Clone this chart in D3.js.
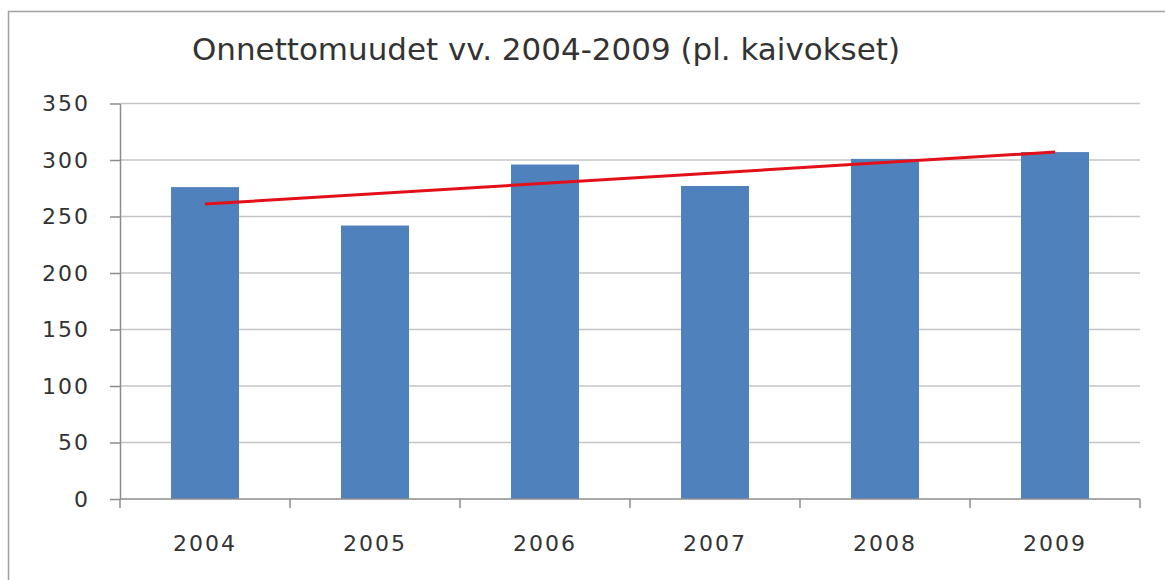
<!DOCTYPE html>
<html>
<head>
<meta charset="utf-8">
<script src="https://cdn.jsdelivr.net/npm/d3@7"></script>
<style>
  body { margin: 0; background: #fff; }
  text { font-family: "DejaVu Sans", sans-serif; fill: #333; }
</style>
</head>
<body>
<div id="chart"></div>
<script>
// Data
var years = ["2004", "2005", "2006", "2007", "2008", "2009"];
var accidents = [276, 242, 296, 277, 301, 307];
// trend line end points (at first and last year)
var trendYears = ["2004", "2009"];
var trendValues = [261, 307];
var yTicks = [0, 50, 100, 150, 200, 250, 300, 350];

var W = 1165, H = 580;
var margin = {top: 103.5, right: 25, bottom: 81, left: 120},
    width = W - margin.left - margin.right,
    height = H - margin.top - margin.bottom;

var root = d3.select("#chart").append("svg")
    .attr("width", W)
    .attr("height", H);

// outer chart border (only top and left are visible in the frame)
root.append("rect")
    .attr("x", 8.5).attr("y", 11.5)
    .attr("width", W + 20).attr("height", H + 20)
    .attr("fill", "none")
    .attr("stroke", "#a0a0a0")
    .attr("stroke-width", 1.5);

// title
root.append("text")
    .attr("x", 192).attr("y", 60)
    .attr("textLength", 708)
    .attr("lengthAdjust", "spacingAndGlyphs")
    .style("font-size", "30px")
    .text("Onnettomuudet vv. 2004-2009 (pl. kaivokset)");

var svg = root.append("g")
    .attr("transform", "translate(" + margin.left + "," + margin.top + ")");

var x = d3.scaleBand().domain(years).range([0, width]).paddingInner(0.6).paddingOuter(0.3);
var y = d3.scaleLinear().domain([0, 350]).range([height, 0]);
var step = x.step();

// gridlines
svg.selectAll(".grid")
    .data(yTicks.filter(function(d) { return d > 0; }))
  .enter().append("line")
    .attr("class", "grid")
    .attr("x1", 0).attr("x2", width)
    .attr("y1", function(d) { return y(d); })
    .attr("y2", function(d) { return y(d); })
    .attr("stroke", "#c4c4c4")
    .attr("stroke-width", 1.5);

// bars
svg.selectAll(".bar")
    .data(accidents)
  .enter().append("rect")
    .attr("class", "bar")
    .attr("x", function(d, i) { return x(years[i]); })
    .attr("width", x.bandwidth())
    .attr("y", function(d) { return y(d); })
    .attr("height", function(d) { return height - y(d); })
    .attr("fill", "#4f81bd");

// trend line
var line = d3.line()
    .x(function(d, i) { return x(trendYears[i]) + x.bandwidth() / 2; })
    .y(function(d) { return y(d); });
svg.append("path")
    .datum(trendValues)
    .attr("d", line)
    .attr("fill", "none")
    .attr("stroke", "#e3101a")
    .attr("stroke-width", 3);

// y axis
var yAxis = svg.append("g")
    .call(d3.axisLeft(y).tickValues(yTicks).tickSize(10).tickPadding(20).tickSizeOuter(0));
yAxis.select(".domain").attr("stroke", "#8c8c8c").attr("stroke-width", 1.5);
yAxis.selectAll(".tick line").attr("stroke", "#8c8c8c").attr("stroke-width", 1.5);
yAxis.selectAll("text")
    .style("font-size", "22px")
    .style("letter-spacing", "2px")
    .attr("fill", "#333");

// x axis: ticks at category boundaries
var xAxis = svg.append("g")
    .attr("transform", "translate(0," + height + ")");
xAxis.append("line")
    .attr("x1", 0).attr("x2", width)
    .attr("stroke", "#8c8c8c").attr("stroke-width", 1.5);
xAxis.selectAll(".xtick")
    .data(d3.range(years.length + 1))
  .enter().append("line")
    .attr("class", "xtick")
    .attr("x1", function(i) { return i * step; })
    .attr("x2", function(i) { return i * step; })
    .attr("y1", 0).attr("y2", 9)
    .attr("stroke", "#8c8c8c").attr("stroke-width", 1.5);
xAxis.selectAll(".xlabel")
    .data(years)
  .enter().append("text")
    .attr("class", "xlabel")
    .attr("x", function(d) { return x(d) + x.bandwidth() / 2; })
    .attr("y", 52)
    .attr("text-anchor", "middle")
    .style("font-size", "22px")
    .style("letter-spacing", "2px")
    .text(function(d) { return d; });
</script>
</body>
</html>
